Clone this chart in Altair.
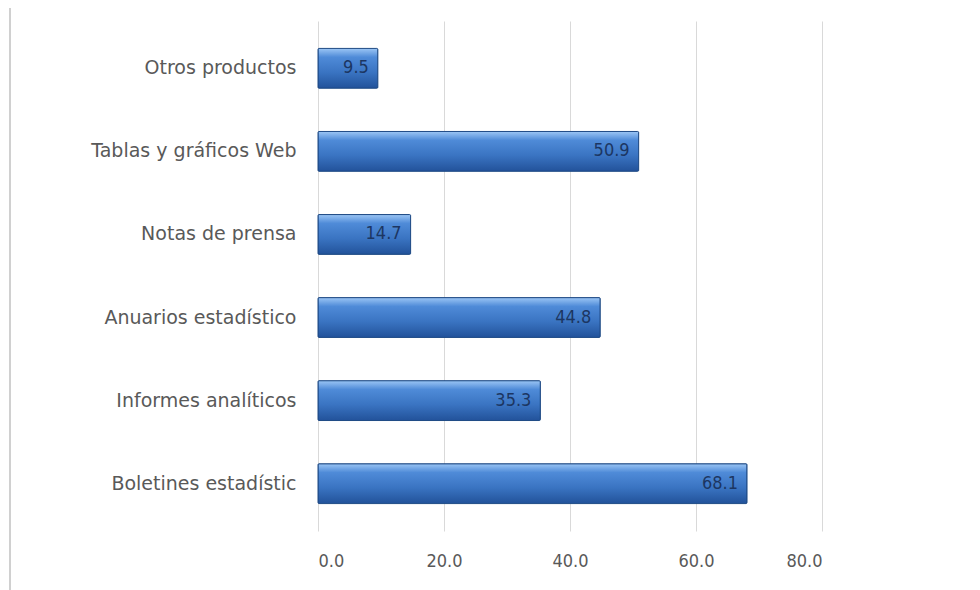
import altair as alt
import pandas as pd

categories = ["Otros productos", "Tablas y gráficos Web", "Notas de prensa",
              "Anuarios estadístico", "Informes analíticos", "Boletines estadístic"]
values = [9.5, 50.9, 14.7, 44.8, 35.3, 68.1]
x_ticks = [0, 20, 40, 60, 80]

df = pd.DataFrame({"cat": categories, "val": values})

label_font = "DejaVu Sans Condensed"

gradient = alt.Gradient(
    gradient="linear", x1=0, x2=0, y1=0, y2=1,
    stops=[alt.GradientStop(color="#9cc6f5", offset=0),
           alt.GradientStop(color="#4f8bd8", offset=0.22),
           alt.GradientStop(color="#3a74c2", offset=0.6),
           alt.GradientStop(color="#22529a", offset=1)],
)

x_enc = alt.X("val:Q", scale=alt.Scale(domain=[0, 80], nice=False),
              axis=alt.Axis(values=x_ticks, format=".1f", title=None, grid=True,
                            gridColor="#d9d9d9", domain=False, ticks=False,
                            labelFont=label_font, labelFontSize=18,
                            labelColor="#595959", labelPadding=21))
y_enc = alt.Y("cat:N", sort=categories,
              scale=alt.Scale(paddingInner=0.52, paddingOuter=0.33),
              axis=alt.Axis(title=None, domain=False, ticks=False,
                            labelFont="DejaVu Sans", labelFontSize=19,
                            labelLimit=400,
                            labelColor="#595959", labelPadding=22))

bars = alt.Chart(df).mark_bar(color=gradient, stroke="#1f4b86", strokeWidth=1,
                              cornerRadius=1).encode(x=x_enc, y=y_enc)

text = alt.Chart(df).mark_text(align="right", baseline="middle", dx=-9,
                               font=label_font, fontSize=18,
                               color="#1c3662").encode(
    x="val:Q", y=alt.Y("cat:N", sort=categories), text=alt.Text("val:Q", format=".1f"))

border = alt.Chart(df).mark_rule(color="#d0d0d0", strokeWidth=2).encode(
    x=alt.value(-308), y=alt.value(-13), y2=alt.value(577))

chart = alt.layer(border, bars, text).properties(
    width=504, height=510,
    padding={"left": 310, "top": 13, "right": 150, "bottom": 60},
    autosize=alt.AutoSizeParams(type="none"),
    background="white",
).configure_view(stroke=None)

chart.save("out.html", embed_options={"renderer": "svg", "actions": False})
